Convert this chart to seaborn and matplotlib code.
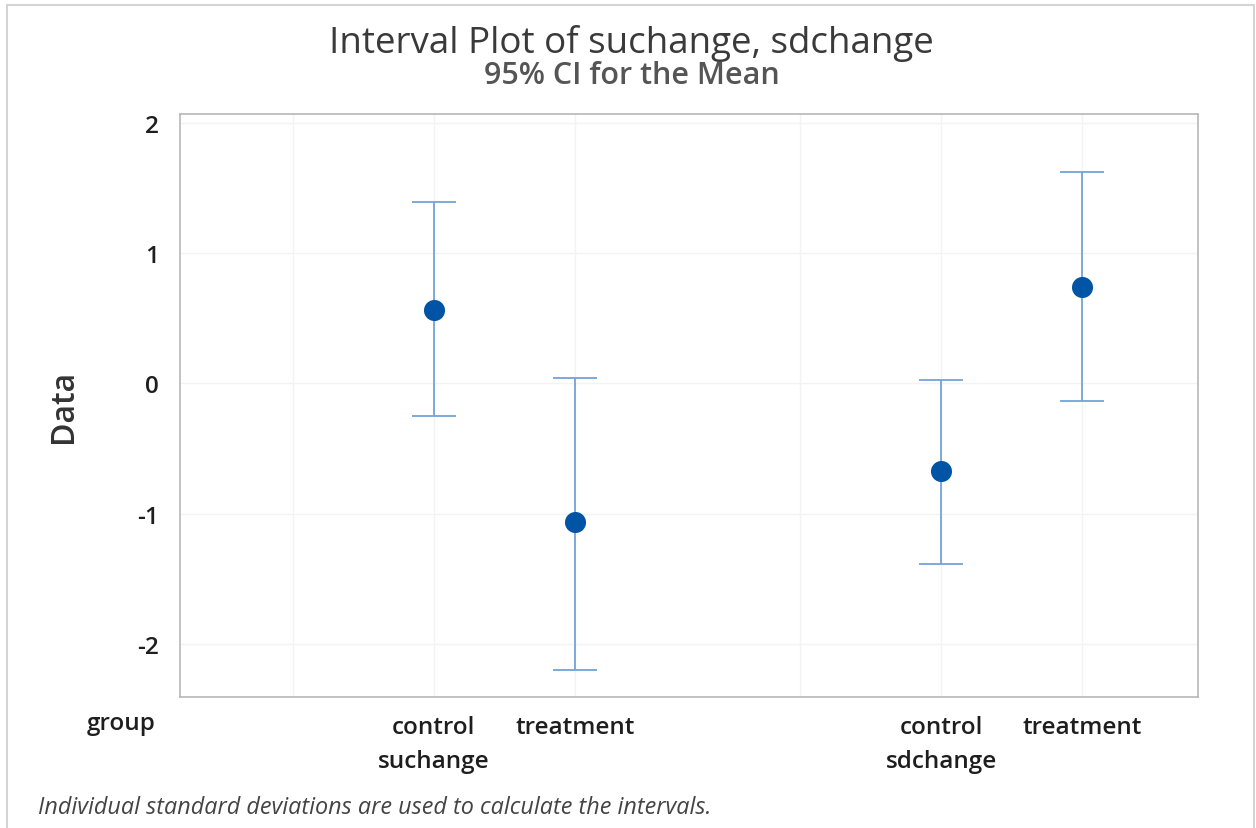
import matplotlib
matplotlib.use("Agg")
import matplotlib.pyplot as plt
import matplotlib.transforms as mtransforms
from matplotlib.patches import Rectangle
import seaborn as sns
import pandas as pd

# === Data ===
variables = ["suchange", "suchange", "sdchange", "sdchange"]
groups = ["control", "treatment", "control", "treatment"]
means = [0.564, -1.063, -0.672, 0.741]
ci_low = [-0.25, -2.20, -1.386, -0.134]
ci_high = [1.393, 0.042, 0.027, 1.624]
yticks = [-2, -1, 0, 1, 2]
footnote = "Individual standard deviations are used to calculate the intervals."

sns.set_theme(style="white")
plt.rcParams['font.family'] = ['Open Sans', 'DejaVu Sans']

# x layout: each variable block has an empty leading tick then its groups
block_start = {"suchange": 0.0, "sdchange": 3.6}
xpos = []
for v, g in zip(variables, groups):
    xpos.append(block_start[v] + (1 if g == "control" else 2))

df = pd.DataFrame({"x": xpos, "mean": means, "lo": ci_low, "hi": ci_high,
                   "group": groups, "variable": variables})

fig = plt.figure(figsize=(12.56, 8.29), dpi=100)
ax = fig.add_axes([180 / 1256, 1 - 698 / 829, (1198 - 180) / 1256, (698 - 115) / 829])

err_color = "#74a2da"
pt_color = "#0054a6"
tick_fs = 17.5

ax.errorbar(df["x"], df["mean"],
            yerr=[df["mean"] - df["lo"], df["hi"] - df["mean"]],
            fmt="none", ecolor=err_color, elinewidth=1.3, capsize=16, capthick=1.3, zorder=2)
sns.scatterplot(data=df, x="x", y="mean", color=pt_color, s=230, edgecolor=pt_color,
                linewidth=0, ax=ax, zorder=3)

ax.set_xlim(-0.8, 6.42)
ax.set_ylim(-2.407, 2.069)

xticks = [0, 1, 2, 3.6, 4.6, 5.6]
xlabels = ["", "control", "treatment", "", "control", "treatment"]
ax.set_xticks(xticks)
ax.set_xticklabels(xlabels, fontsize=tick_fs, fontweight="semibold", color="#1e1e1e")
ax.set_yticks(yticks)
ax.set_yticklabels([str(t) for t in yticks],
                   fontsize=tick_fs, fontweight="semibold", color="#1e1e1e")

ax.grid(True, color="#f3f3f3", linewidth=1)
ax.set_axisbelow(True)
for sp in ax.spines.values():
    sp.set_color("#b8b8b8")
    sp.set_linewidth(1.2)
ax.tick_params(axis="x", direction="out", length=5, width=1, color="#b8b8b8", pad=8)
ax.tick_params(axis="y", direction="out", length=5, width=1, color="#b8b8b8", pad=10)

ax.set_xlabel("")
ax.set_ylabel("Data", fontsize=23, fontweight="semibold", color="#333333")
ax.yaxis.set_label_coords((80 - 180) / 1018, 0.5)

# second-level x labels
trans = mtransforms.blended_transform_factory(ax.transData, fig.transFigure)
for v, start in block_start.items():
    ax.text(start + 1, 1 - 762 / 829, v, transform=trans, ha="center", va="center",
            fontsize=tick_fs, fontweight="semibold", color="#1e1e1e")
fig.text(121 / 1256, 1 - 724 / 829, "group", ha="center", va="center",
         fontsize=tick_fs, fontweight="semibold", color="#1e1e1e")

fig.text(631 / 1256, 1 - 43 / 829, "Interval Plot of suchange, sdchange", ha="center",
         va="center", fontsize=26.5, color="#3a3a3a")
fig.text(632 / 1256, 1 - 76 / 829, "95% CI for the Mean", ha="center", va="center",
         fontsize=22, fontweight="semibold", color="#555555")
fig.text(38 / 1256, 1 - 808 / 829, footnote, ha="left", va="center",
         fontsize=16.8, style="italic", color="#444444")

# outer frame
fig.patches.append(Rectangle((7 / 1256, -0.05), (1254 - 7) / 1256, 1.05 - 6 / 829,
                             transform=fig.transFigure, fill=False,
                             edgecolor="#d4d4d4", linewidth=1.5))

fig.savefig("out.png", dpi=100)
